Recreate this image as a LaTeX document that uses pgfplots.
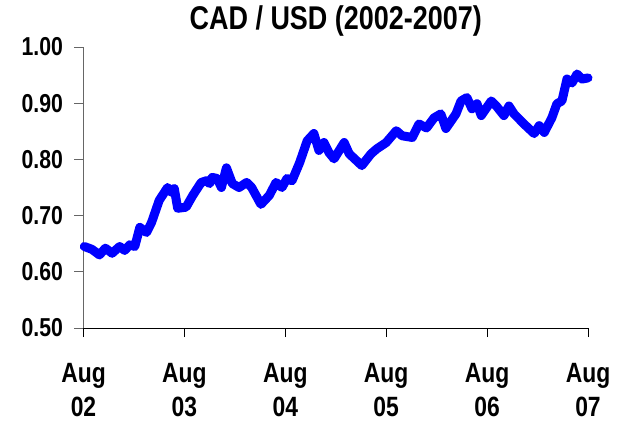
\documentclass[border=0pt]{standalone}
\usepackage{pgfplots}
\pgfplotsset{compat=1.18}
\usepackage{fontspec}
\setmainfont{Liberation Sans}[FakeStretch=0.82]
\definecolor{lineblue}{RGB}{0,0,255}
\begin{document}
\begin{tikzpicture}
\useasboundingbox (-83.5bp,-95bp) rectangle (542.5bp,328bp);
\begin{axis}[
  scale only axis,
  width=504.5bp, height=281bp,
  xmin=0, xmax=60, ymin=0.5, ymax=1.0,
  axis lines*=left,
  clip=false,
  x axis line style={black, line width=0.9bp},
  y axis line style={black!60, line width=0.9bp},
  tick align=outside,
  major tick length=9bp,
  xtick={0,12,24,36,48,60},
  xticklabels={Aug\\02,Aug\\03,Aug\\04,Aug\\05,Aug\\06,Aug\\07},
  ytick={0.5,0.6,0.7,0.8,0.9,1.0},
  xtick style={black, line width=0.9bp},
  ytick style={black!60, line width=0.9bp},
  yticklabel style={/pgf/number format/fixed, /pgf/number format/fixed zerofill, /pgf/number format/precision=2, font=\bfseries\fontsize{26}{30}\selectfont, xshift=-8bp},
  xticklabel style={align=center, font=\bfseries\fontsize{28}{34}\selectfont, yshift=-23bp},
  /pgf/number format/assume math mode=true,
  title={CAD / USD (2002-2007)},
  title style={font=\bfseries\fontsize{33}{36}\selectfont, anchor=base, at={(0.5,1)}, yshift=12bp},
]
\addplot[lineblue, line width=9bp, line join=round, line cap=round] coordinates {
(0.1,0.645) (1.0,0.640) (1.9,0.630) (2.6,0.642) (3.4,0.633) (4.3,0.645) (4.9,0.638) (5.5,0.648) (6.1,0.645) (6.7,0.679) (7.5,0.670) (8.1,0.688) (9.0,0.727) (10.0,0.750) (10.5,0.741) (10.8,0.748) (11.2,0.713) (12.2,0.715) (13.0,0.736) (14.0,0.759) (14.6,0.762) (15.0,0.757) (15.3,0.768) (15.9,0.766) (16.4,0.750) (17.0,0.785) (17.7,0.757) (18.5,0.750) (19.4,0.759) (20.0,0.750) (21.1,0.720) (22.1,0.736) (22.9,0.759) (23.6,0.750) (24.2,0.766) (24.8,0.762) (25.7,0.794) (26.6,0.833) (27.4,0.846) (28.0,0.816) (28.6,0.830) (29.2,0.812) (29.8,0.801) (31.0,0.830) (31.6,0.810) (33.1,0.789) (34.2,0.810) (34.9,0.819) (36.0,0.830) (37.2,0.851) (37.9,0.842) (39.1,0.839) (39.9,0.863) (40.8,0.856) (41.7,0.874) (42.5,0.881) (43.1,0.855) (44.3,0.881) (44.9,0.904) (45.6,0.910) (46.2,0.890) (46.8,0.899) (47.3,0.878) (48.5,0.904) (49.1,0.895) (50.0,0.878) (50.6,0.895) (51.2,0.881) (52.6,0.860) (53.6,0.846) (54.2,0.860) (54.8,0.848) (55.7,0.874) (56.3,0.899) (56.9,0.904) (57.5,0.943) (58.1,0.936) (58.7,0.952) (59.3,0.943) (60.0,0.945)
};
\end{axis}
\end{tikzpicture}
\end{document}
